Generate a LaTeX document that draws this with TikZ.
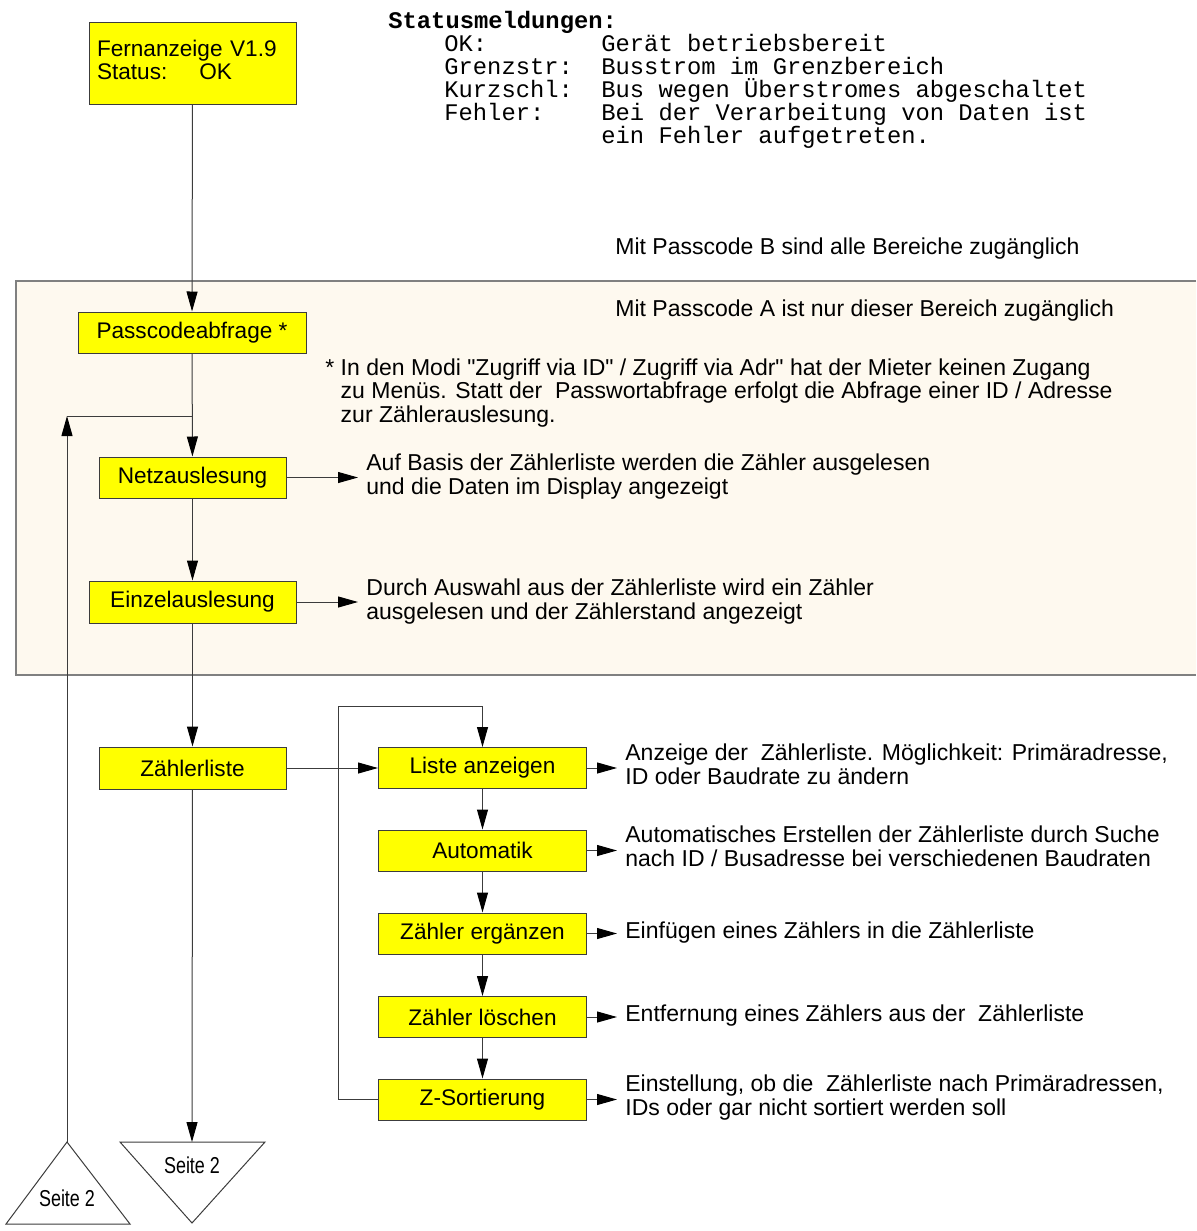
\documentclass[tikz,border=0pt]{standalone}
\usepackage{fontspec}
\setmainfont{Liberation Sans}[Ligatures=TeXOff]
\newfontfamily\monofont{Liberation Mono}[Ligatures=TeXOff]
\usetikzlibrary{arrows.meta}
\definecolor{areabg}{HTML}{FEF9EF}
\definecolor{boxyellow}{HTML}{FFFF00}
\definecolor{linegray}{HTML}{3C3C3C}

\begin{document}
\begin{tikzpicture}[x=0.5pt,y=-0.5pt,
  box/.style={draw=linegray,fill=boxyellow,line width=0.5pt,inner sep=0pt,minimum height=20.5pt,font=\fontsize{11.3}{11.7}\selectfont},
  desc/.style={anchor=base west,align=left,inner xsep=4pt,inner ysep=0pt,font=\fontsize{11.5}{11.7}\selectfont},
  mono/.style={anchor=base west,align=left,inner sep=0pt,font=\monofont\fontsize{11.9}{11.5}\selectfont},
  arr/.style={draw=linegray,line width=0.5pt,-{Triangle[length=10pt,width=5.5pt,color=black]}},
  wire/.style={draw=linegray,line width=0.5pt},
  page/.style={inner sep=0pt,font=\fontsize{11.5}{12}\selectfont}]
\useasboundingbox (0,0) rectangle (1196,1231);
% Bereich fuer Passcode A
\fill[areabg] (16,281) rectangle (1196,675);
\draw[gray,line width=0.6pt] (1196,281)--(16,281)--(16,675)--(1196,675);

\node[box,minimum width=103.5pt,minimum height=41pt,text width=95.5pt,align=left] (fern) at (192.5,63) {Fernanzeige V1.9\\Status:\hspace{16pt}OK\vspace{3pt}};
\node[box,minimum width=114pt] (pass) at (192,332.5) {Passcodeabfrage *};
\node[box,minimum width=93.5pt] (netz) at (192.5,477.5) {Netzauslesung};
\node[box,minimum width=103.5pt,minimum height=21pt] (einzel) at (192.5,602) {Einzelauslesung};
\node[box,minimum width=93.5pt,minimum height=21pt] (zliste) at (192.5,768) {Zählerliste};
\node[box,minimum width=104pt] (liste) at (482.5,768) {Liste anzeigen};
\node[box,minimum width=104pt] (auto) at (482.5,850.5) {Automatik};
\node[box,minimum width=104pt] (ergaenzen) at (482.5,933.5) {Zähler ergänzen};
\node[box,minimum width=104pt] (loeschen) at (482.5,1017) {Zähler löschen};
\node[box,minimum width=104pt] (zsort) at (482.5,1099.5) {Z-Sortierung};

% Statusmeldungen
\node[mono,font=\monofont\bfseries\fontsize{11.9}{11.5}\selectfont] (stathead) at (388,28) {Statusmeldungen:};
\node[mono] (okl) at (444,51) {OK:};
\node[mono] (grenzl) at (444,74) {Grenzstr:};
\node[mono] (kurzl) at (444,97) {Kurzschl:};
\node[mono] (fehll) at (444,120) {Fehler:};
\node[mono] (okt) at (601,51) {Gerät betriebsbereit};
\node[mono] (grenzt) at (601,74) {Busstrom im Grenzbereich};
\node[mono] (kurzt) at (601,97) {Bus wegen Überstromes abgeschaltet};
\node[mono] (fehlt) at (601,143) {Bei der Verarbeitung von Daten ist\\ein Fehler aufgetreten.};

\node[desc] (pbtext) at (607,254) {Mit Passcode B sind alle Bereiche zugänglich};
\node[desc] (patext) at (607,316) {Mit Passcode A ist nur dieser Bereich zugänglich};
\node[desc] (note) at (317,422) {* In den Modi "Zugriff via ID" / Zugriff via Adr" hat der Mieter keinen Zugang\\\phantom{* }zu Menüs. Statt der~ Passwortabfrage erfolgt die Abfrage einer ID / Adresse\\\phantom{* }zur Zählerauslesung.};
\node[desc] (netzd) at (358,494) {Auf Basis der Zählerliste werden die Zähler ausgelesen\\und die Daten im Display angezeigt};
\node[desc] (einzeld) at (358,619) {Durch Auswahl aus der Zählerliste wird ein Zähler\\ausgelesen und der Zählerstand angezeigt};
\node[desc] (listed) at (617,784) {Anzeige der~ Zählerliste. Möglichkeit: Primäradresse,\\ID oder Baudrate zu ändern};
\node[desc] (autod) at (617,866) {Automatisches Erstellen der Zählerliste durch Suche\\nach ID / Busadresse bei verschiedenen Baudraten};
\node[desc] (ergaenzend) at (617,938) {Einfügen eines Zählers in die Zählerliste};
\node[desc] (loeschend) at (617,1021) {Entfernung eines Zählers aus der~ Zählerliste};
\node[desc] (zsortd) at (617,1115) {Einstellung, ob die~ Zählerliste nach Primäradressen,\\IDs oder gar nicht sortiert werden soll};

% Seite 2
\draw[wire] (120,1142)--(265,1142)--(192,1223)--cycle;
\draw[wire] (67,1142)--(130,1224)--(6,1224)--cycle;
\coordinate (s2in) at (192,1142);
\coordinate (s2out) at (67,1142);
\coordinate (back) at (67,416);
\coordinate (loop) at (338,706);
\node[page] (seiteA) at (192,1165) {\scalebox{0.78}[1]{Seite 2}};
\node[page] (seiteB) at (67,1198) {\scalebox{0.78}[1]{Seite 2}};

\draw[arr] (fern)--(pass);
\draw[arr] (pass)--(netz);
\draw[arr] (netz)--(einzel);
\draw[arr] (einzel)--(zliste);
\draw[arr] (zliste)--(s2in);
\draw[arr] (s2out)--(back);
\draw[wire] (back)--(back -| pass);
\draw[arr] (zliste)--(liste);
\draw[arr] (liste)--(auto);
\draw[arr] (auto)--(ergaenzen);
\draw[arr] (ergaenzen)--(loeschen);
\draw[arr] (loeschen)--(zsort);
\draw[arr] (zsort) -| (loop) -| (liste);

\draw[arr] (netz)--(netz -| netzd.west);
\draw[arr] (einzel)--(einzel -| einzeld.west);
\draw[arr] (liste)--(liste -| listed.west);
\draw[arr] (auto)--(auto -| autod.west);
\draw[arr] (ergaenzen)--(ergaenzen -| ergaenzend.west);
\draw[arr] (loeschen)--(loeschen -| loeschend.west);
\draw[arr] (zsort)--(zsort -| zsortd.west);
\end{tikzpicture}
\end{document}
